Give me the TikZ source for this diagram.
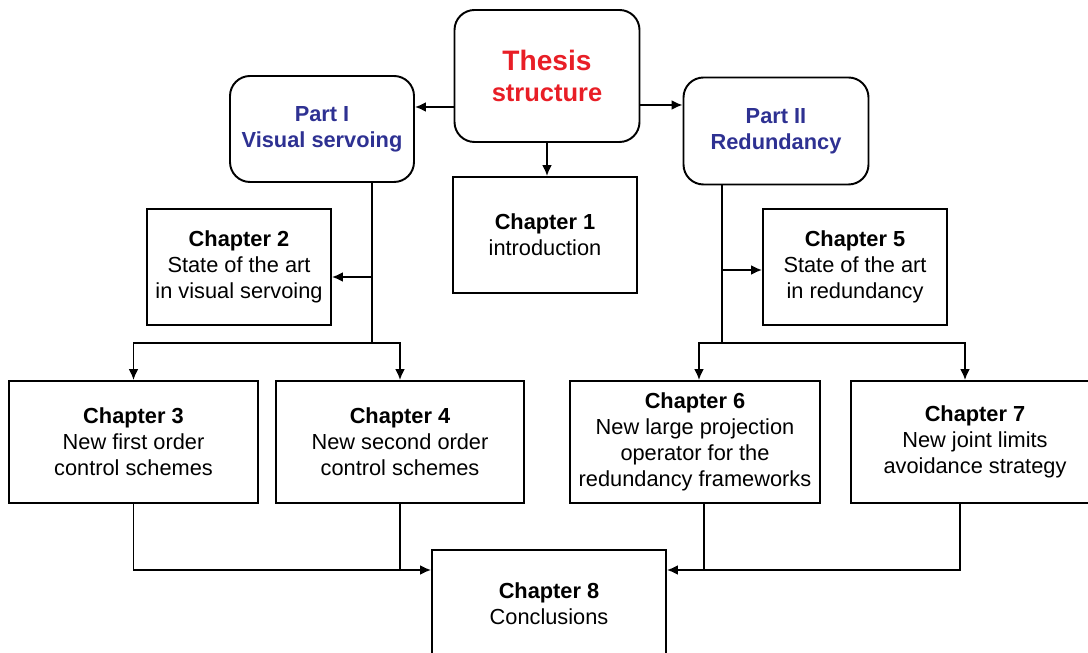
\documentclass[tikz,border=0pt]{standalone}
\usepackage{fontspec}
\setmainfont{Liberation Sans}
\usetikzlibrary{arrows.meta}

\definecolor{thesisred}{RGB}{232,30,38}
\definecolor{partblue}{RGB}{46,49,146}

\tikzset{
  partbox/.style={rectangle, rounded corners=0.4cm, draw=black, line width=1.1pt, align=center, font=\fontsize{12.4}{14.8}\selectfont\bfseries, text=partblue},
  chapbox/.style={rectangle, draw=black, line width=1.1pt, align=center, font=\fontsize{12.4}{14.8}\selectfont},
  link/.style={black, line width=1.1pt},
}

\begin{document}
\begin{tikzpicture}
\clip (0,0) rectangle (21.76,-13.06);

\node at (10.94,-1.52)[rectangle, rounded corners=0.4cm, draw=black, line width=1.1pt, minimum width=3.7cm, minimum height=2.64cm, align=center, text=thesisred, font=\bfseries] (thesis) {{\fontsize{16}{18.7}\selectfont Thesis}\\[0.2cm]{\fontsize{14.5}{18.7}\selectfont structure}};
\node at (6.44,-2.58)[partbox, minimum width=3.68cm, minimum height=2.12cm] (part1) {Part I\\Visual servoing};
\node at (15.52,-2.62)[partbox, minimum width=3.7cm, minimum height=2.14cm] (part2) {Part II\\Redundancy};

\node at (10.9,-4.7)[chapbox, minimum width=3.68cm, minimum height=2.32cm] (ch1) {\textbf{Chapter 1}\\introduction};
\node at (4.78,-5.34)[chapbox, minimum width=3.68cm, minimum height=2.32cm] (ch2) {\textbf{Chapter 2}\\State of the art\\in visual servoing};
\node at (17.1,-5.34)[chapbox, minimum width=3.68cm, minimum height=2.32cm] (ch5) {\textbf{Chapter 5}\\State of the art\\in redundancy};

\node at (2.67,-8.84)[chapbox, minimum width=4.98cm, minimum height=2.44cm] (ch3) {\textbf{Chapter 3}\\New first order\\control schemes};
\node at (8.0,-8.84)[chapbox, minimum width=4.96cm, minimum height=2.44cm] (ch4) {\textbf{Chapter 4}\\New second order\\control schemes};
\node at (13.9,-8.84)[chapbox, minimum width=5.0cm, minimum height=2.44cm] (ch6) {\textbf{Chapter 6}\\New large projection\\operator for the\\redundancy frameworks};
\node at (19.5,-8.84)[chapbox, minimum width=4.96cm, minimum height=2.44cm] (ch7) {\textbf{Chapter 7}\\New joint limits\\avoidance strategy};

\node at (10.98,-12.08)[chapbox, minimum width=4.68cm, minimum height=2.16cm] (ch8) {\textbf{Chapter 8}\\Conclusions};

% junctions of the two parts
\coordinate (spine1) at (7.44,-6.86);
\coordinate (spine2) at (14.44,-6.86);
\coordinate (join8) at (10.98,-11.4);

\begin{scope}[>={Latex[length=2.2mm,width=2mm]}]
	\draw[link, ->] (thesis.west |- 0,-2.14) -- (part1.east |- 0,-2.14);
	\draw[link, ->] (thesis.east |- 0,-2.1) -- (part2.west |- 0,-2.1);
	\draw[link, ->] (thesis.south) -- (thesis.south |- ch1.north);

	\draw[link] (part1.south -| spine1) -- (spine1);
	\draw[link, ->] (spine1 |- 0,-5.54) -- (ch2.east |- 0,-5.54);
	\draw[link, ->] (spine1) -| (ch3.north);
	\draw[link, ->] (spine1) -| (ch4.north);

	\draw[link] (part2.south -| spine2) -- (spine2);
	\draw[link, ->] (spine2 |- 0,-5.4) -- (ch5.west |- 0,-5.4);
	\draw[link, ->] (spine2) -| ([xshift=0.08cm]ch6.north);
	\draw[link, ->] (spine2) -| ([xshift=-0.2cm]ch7.north);

	\draw[link, ->] (ch3.south) |- (ch8.west |- join8);
	\draw[link] (ch4.south) -- (ch4.south |- join8);
	\draw[link, ->] ([xshift=-0.3cm]ch7.south) |- (ch8.east |- join8);
	\draw[link] ([xshift=0.18cm]ch6.south) -- ([xshift=0.18cm]ch6.south |- join8);
\end{scope}
\end{tikzpicture}
\end{document}
